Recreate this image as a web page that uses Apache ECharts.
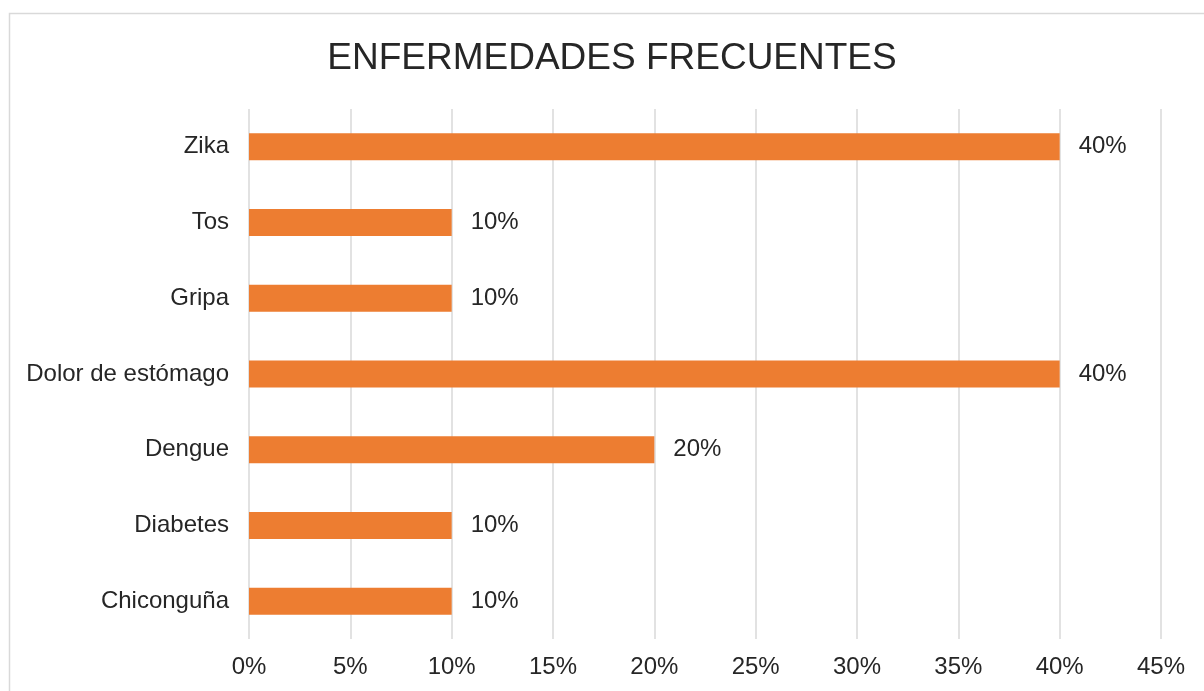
<!DOCTYPE html>
<html>
<head>
<meta charset="utf-8">
<script src="https://cdn.jsdelivr.net/npm/echarts@6/dist/echarts.min.js"></script>
<style>
  html, body { margin: 0; padding: 0; background: #fff; }
  #chart { width: 1204px; height: 691px; }
</style>
</head>
<body>
<div id="chart"></div>
<script>
// Disease categories, listed bottom to top
const categories = ['Chiconguña', 'Diabetes', 'Dengue', 'Dolor de estómago', 'Gripa', 'Tos', 'Zika'];
// Share of responses per disease, in percent
const values = [10, 10, 20, 40, 10, 10, 40];
// Percentage axis range
const axisMin = 0;
const axisMax = 45;
const axisStep = 5;

const textColor = '#262626';
const gridColor = '#d9d9d9';
const fontFamily = '"Liberation Sans", Arial, sans-serif';

const chart = echarts.init(document.getElementById('chart'));
chart.setOption({
  animation: false,
  backgroundColor: '#fff',
  textStyle: { fontFamily: fontFamily },
  title: {
    text: 'ENFERMEDADES FRECUENTES',
    left: 607,
    textAlign: 'center',
    top: 35,
    textStyle: { fontSize: 37, fontWeight: 'normal', color: textColor, fontFamily: fontFamily }
  },
  graphic: [{
    type: 'rect',
    shape: { x: 9.5, y: 13.5, width: 1220, height: 720 },
    style: { fill: 'none', stroke: gridColor, lineWidth: 1.5 },
    silent: true
  }],
  grid: { left: 249, right: 43, top: 109, bottom: 52, containLabel: false },
  xAxis: {
    type: 'value',
    min: axisMin,
    max: axisMax,
    interval: axisStep,
    axisLine: { show: false },
    axisTick: { show: false },
    splitLine: { show: true, lineStyle: { color: gridColor, width: 1.5 } },
    axisLabel: {
      formatter: '{value}%',
      fontSize: 24,
      color: textColor,
      margin: 16,
      fontFamily: fontFamily
    }
  },
  yAxis: {
    type: 'category',
    data: categories,
    axisLine: { show: false },
    axisTick: { show: false },
    axisLabel: { fontSize: 24, color: textColor, margin: 20, padding: [3, 0, 0, 0], fontFamily: fontFamily }
  },
  series: [{
    type: 'bar',
    data: values,
    barWidth: 27,
    itemStyle: { color: '#ED7D31' },
    label: {
      show: true,
      position: 'right',
      distance: 19,
      formatter: '{c}%',
      fontSize: 24,
      color: textColor,
      padding: [3, 0, 0, 0],
      fontFamily: fontFamily
    }
  }]
});
</script>
</body>
</html>
